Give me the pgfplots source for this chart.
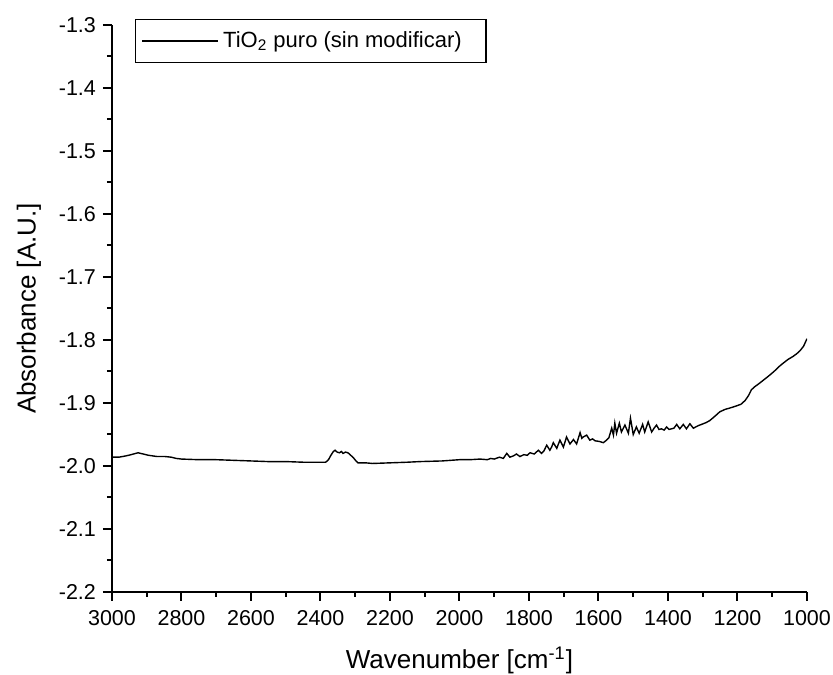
\documentclass[border=0pt]{standalone}
\usepackage{pgfplots}
\pgfplotsset{compat=1.18}
\usepackage{fontspec}
\setmainfont{Liberation Sans}
\begin{document}
\begin{tikzpicture}
\begin{axis}[
  scale only axis,
  width=347.5pt, height=283.5pt,
  xmin=1000, xmax=3000, ymin=-2.2, ymax=-1.3,
  x dir=reverse,
  axis x line*=bottom, axis y line*=left,
  axis line style={line width=1pt, -},
  xtick distance=200, ytick distance=0.1,
  minor x tick num=1, minor y tick num=1,
  tick align=outside,
  major tick length=4.5pt, minor tick length=2.5pt,
  every tick/.style={line width=1pt, black},
  tick label style={font=\fontsize{10.75}{12}\selectfont},
  /pgf/number format/assume math mode=true,
  xticklabel style={/pgf/number format/1000 sep={}, yshift=-1pt},
  yticklabel style={/pgf/number format/.cd, fixed, fixed zerofill, precision=1},
  xlabel={Wavenumber [cm\textsuperscript{-1}]},
  ylabel={Absorbance [A.U.]},
  label style={font=\fontsize{13}{15}\selectfont},
  xlabel style={yshift=-4pt},
  ylabel style={yshift=2pt},
  legend style={at={(0.033,1.0106)}, anchor=north west, draw=black, line width=0.75pt,
    font=\fontsize{11}{13}\selectfont, inner xsep=3pt, inner ysep=4pt, row sep=0pt},
  legend image code/.code={\draw[#1, line width=0.75pt] (0pt,0pt) -- (38pt,0pt);},
]
\addplot[black, line width=0.7pt] coordinates {
(3000,-1.986) (2980,-1.986) (2960,-1.984) (2945,-1.982) (2925,-1.979) (2910,-1.981) (2895,-1.983)
(2870,-1.985) (2847,-1.985) (2830,-1.986) (2815,-1.988) (2800,-1.989) (2750,-1.990) (2700,-1.990)
(2650,-1.991) (2600,-1.992) (2550,-1.993) (2500,-1.993) (2450,-1.994) (2400,-1.994) (2385,-1.994)
(2377,-1.990) (2370,-1.983) (2363,-1.977) (2358,-1.975) (2352,-1.978) (2345,-1.979) (2340,-1.977)
(2335,-1.980) (2328,-1.978) (2321,-1.979) (2313,-1.983) (2305,-1.987) (2298,-1.992) (2292,-1.995)
(2270,-1.995) (2250,-1.996) (2200,-1.995) (2150,-1.994) (2114,-1.993) (2050,-1.992) (2000,-1.990)
(1970,-1.990) (1941,-1.989) (1920,-1.990) (1910,-1.988) (1900,-1.989) (1895,-1.988) (1885,-1.986)
(1874,-1.988) (1864,-1.980) (1855,-1.986) (1845,-1.984) (1836,-1.981) (1826,-1.985) (1815,-1.982)
(1805,-1.983) (1797,-1.979) (1785,-1.981) (1773,-1.975) (1764,-1.980) (1757,-1.976) (1749,-1.967)
(1740,-1.975) (1735,-1.970) (1730,-1.963) (1720,-1.972) (1716,-1.966) (1711,-1.959) (1701,-1.970)
(1697,-1.963) (1692,-1.954) (1682,-1.965) (1672,-1.958) (1663,-1.965) (1653,-1.947) (1648,-1.956)
(1644,-1.954) (1634,-1.951) (1625,-1.959) (1617,-1.957) (1610,-1.960) (1598,-1.961)
(1586,-1.963) (1577,-1.959) (1570,-1.955) (1562,-1.940) (1557,-1.951) (1553,-1.932) (1548,-1.948)
(1540,-1.932) (1534,-1.946) (1524,-1.935) (1514,-1.948) (1508,-1.924) (1500,-1.950) (1491,-1.938)
(1483,-1.948) (1473,-1.934) (1467,-1.946) (1457,-1.930) (1447,-1.946) (1440,-1.940) (1433,-1.935)
(1426,-1.942) (1419,-1.941) (1411,-1.943) (1404,-1.938) (1397,-1.942) (1390,-1.941) (1383,-1.940)
(1375,-1.934) (1366,-1.941) (1356,-1.934) (1347,-1.941) (1337,-1.933) (1327,-1.940) (1313,-1.936)
(1299,-1.933) (1290,-1.931) (1280,-1.928) (1265,-1.921) (1251,-1.914) (1235,-1.910) (1222,-1.908)
(1205,-1.905) (1190,-1.902) (1178,-1.896) (1168,-1.888) (1160,-1.879) (1150,-1.874) (1140,-1.870)
(1126,-1.864) (1110,-1.857) (1095,-1.850) (1080,-1.842) (1069,-1.837) (1055,-1.831) (1040,-1.826)
(1030,-1.822) (1020,-1.817) (1010,-1.810) (1000,-1.798)
};
\addlegendentry{TiO\textsubscript{2} puro (sin modificar)\kern7pt\null}
\end{axis}
\pgfresetboundingbox
\path (current axis.south west) ++(-56pt,-41.5pt) rectangle ([xshift=13pt,yshift=12.5pt]current axis.north east);
\end{tikzpicture}
\end{document}
